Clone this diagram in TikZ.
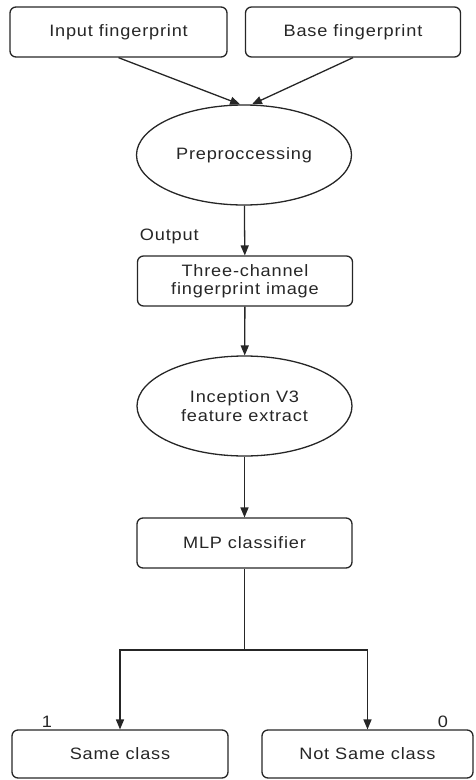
\documentclass[tikz,border=0pt]{standalone}
\usepackage{fontspec}
\setmainfont{Liberation Sans}[LetterSpace=5, FakeStretch=1.1]
\usetikzlibrary{arrows,shapes.geometric}

\tikzset{
	box/.style={draw, rounded corners=6pt, minimum width=215pt, minimum height=50pt, align=center, inner sep=2pt},
	oval/.style={draw, ellipse, minimum width=215pt, minimum height=100pt, align=center, inner sep=0pt},
	flow/.style={-triangle 45, line width=1.3pt}
}

\begin{document}
\begin{tikzpicture}[x=1pt,y=-1pt, line width=1.3pt, font=\fontsize{16.5}{18.5}\selectfont, color=black!85]
			\useasboundingbox (0,0) rectangle (475,780);
			\node[box, minimum width=217pt](input) at (118.5,32){Input fingerprint};
			\node[box](base) at (353,32){Base fingerprint};
			\node[oval](pre) at (244,155){Preproccessing};
			\node[anchor=west](out) at (136,236){Output};
			\node[box](three) at (245,281){Three-channel\\fingerprint image};
			\node[oval](incep) at (244.5,406){Inception V3\\feature extract};
			\node[box](mlp) at (244.5,543){MLP classifier};
			\coordinate (split) at (244.5,650);
			\node[box, minimum width=216pt, minimum height=48pt](same) at (120,754){Same class};
			\node[box, minimum width=211pt, minimum height=48pt](notsame) at (367.5,754){Not Same class};
			\node(one) at (47,722){1};
			\node(zero) at (443,722){0};
			\draw[flow] (input.south) -- ([xshift=-4pt]pre.north);
			\draw[flow] (base.south) -- ([xshift=8pt]pre.north);
			\draw[flow] (pre) -- (three);
			\draw[flow] (three) -- (incep);
			\draw[flow] (incep) -- (mlp);
			\draw (mlp) -- (split);
			\draw[flow] (split) -| (same);
			\draw[flow] (split) -| (notsame);
		\end{tikzpicture}
\end{document}
